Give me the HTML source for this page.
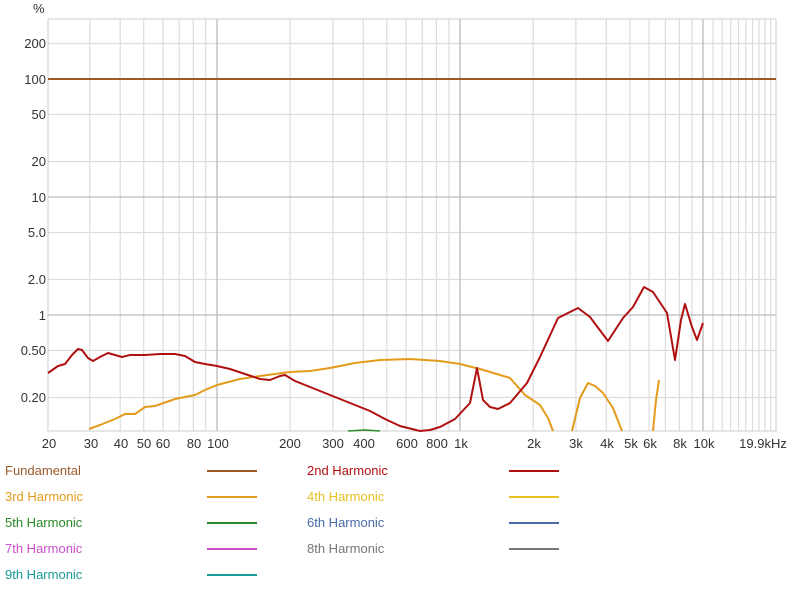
<!DOCTYPE html>
<html><head><style>
body{margin:0;background:#fff;}
svg text{font-family:"Liberation Sans",sans-serif;font-size:13px;fill:#333;}
</style></head><body>
<svg width="800" height="593" xmlns="http://www.w3.org/2000/svg">
<g stroke="#ddd" stroke-width="1.2">
<line x1="89.8" y1="19" x2="89.8" y2="431"/><line x1="120.2" y1="19" x2="120.2" y2="431"/><line x1="143.7" y1="19" x2="143.7" y2="431"/><line x1="163" y1="19" x2="163" y2="431"/><line x1="179.2" y1="19" x2="179.2" y2="431"/><line x1="193.3" y1="19" x2="193.3" y2="431"/><line x1="205.7" y1="19" x2="205.7" y2="431"/>
<line x1="290.1" y1="19" x2="290.1" y2="431"/><line x1="332.9" y1="19" x2="332.9" y2="431"/><line x1="363.3" y1="19" x2="363.3" y2="431"/><line x1="386.8" y1="19" x2="386.8" y2="431"/><line x1="406.1" y1="19" x2="406.1" y2="431"/><line x1="422.3" y1="19" x2="422.3" y2="431"/><line x1="436.4" y1="19" x2="436.4" y2="431"/><line x1="448.9" y1="19" x2="448.9" y2="431"/>
<line x1="533.2" y1="19" x2="533.2" y2="431"/><line x1="575.9" y1="19" x2="575.9" y2="431"/><line x1="606.3" y1="19" x2="606.3" y2="431"/><line x1="629.9" y1="19" x2="629.9" y2="431"/><line x1="649.1" y1="19" x2="649.1" y2="431"/><line x1="665.4" y1="19" x2="665.4" y2="431"/><line x1="679.4" y1="19" x2="679.4" y2="431"/><line x1="691.9" y1="19" x2="691.9" y2="431"/>
<line x1="713.1" y1="19" x2="713.1" y2="431"/><line x1="722.2" y1="19" x2="722.2" y2="431"/><line x1="730.7" y1="19" x2="730.7" y2="431"/><line x1="738.5" y1="19" x2="738.5" y2="431"/><line x1="745.8" y1="19" x2="745.8" y2="431"/><line x1="752.6" y1="19" x2="752.6" y2="431"/><line x1="759" y1="19" x2="759" y2="431"/><line x1="765" y1="19" x2="765" y2="431"/><line x1="770.7" y1="19" x2="770.7" y2="431"/>
<line x1="48" y1="43.5" x2="776" y2="43.5"/><line x1="48" y1="114.5" x2="776" y2="114.5"/><line x1="48" y1="161.5" x2="776" y2="161.5"/><line x1="48" y1="232.5" x2="776" y2="232.5"/><line x1="48" y1="279.5" x2="776" y2="279.5"/><line x1="48" y1="350.5" x2="776" y2="350.5"/><line x1="48" y1="397.5" x2="776" y2="397.5"/>
</g>
<g stroke="#bbb" stroke-width="1.3">
<line x1="217" y1="19" x2="217" y2="431"/><line x1="460" y1="19" x2="460" y2="431"/><line x1="703" y1="19" x2="703" y2="431"/>
<line x1="48" y1="197" x2="776" y2="197"/><line x1="48" y1="315" x2="776" y2="315"/>
</g>
<rect x="48" y="19" width="728" height="412" fill="none" stroke="#ccc" stroke-width="1"/>
<g text-anchor="end">
<text x="46" y="48">200</text><text x="46" y="84">100</text><text x="46" y="119">50</text><text x="46" y="166">20</text><text x="46" y="202">10</text><text x="46" y="237">5.0</text><text x="46" y="284">2.0</text><text x="46" y="320">1</text><text x="46" y="355">0.50</text><text x="46" y="402">0.20</text>
</g>
<text x="33" y="13">%</text>
<g text-anchor="middle">
<text x="49" y="448">20</text><text x="91" y="448">30</text><text x="121" y="448">40</text><text x="144" y="448">50</text><text x="163" y="448">60</text><text x="194" y="448">80</text><text x="218" y="448">100</text>
<text x="290" y="448">200</text><text x="333" y="448">300</text><text x="364" y="448">400</text><text x="407" y="448">600</text><text x="437" y="448">800</text><text x="461" y="448">1k</text>
<text x="534" y="448">2k</text><text x="576" y="448">3k</text><text x="607" y="448">4k</text><text x="631" y="448">5k</text><text x="650" y="448">6k</text><text x="680" y="448">8k</text><text x="704" y="448">10k</text><text x="763" y="448">19.9kHz</text>
</g>
<line x1="48" y1="79" x2="776" y2="79" stroke="#9c5a2a" stroke-width="2"/>
<path d="M348,431 L365,430 L380,431" fill="none" stroke="#2a8a2a" stroke-width="1.5"/>
<path d="M89,429 L100,425 L115,419 L125,414 L135,414 L145,407 L155,406 L175,399 L195,395 L205,390 L217,385 L240,379 L260,376 L290,372 L310,371 L330,368 L355,363 L380,360 L410,359 L440,361 L460,364 L480,369 L510,378 L518,387 L525,395 L540,405 L548,418 L553,431" fill="none" stroke="#e39b1c" stroke-width="2" stroke-linejoin="round"/>
<path d="M572,431 L580,398 L588,383 L595,386 L603,393 L613,408 L622,431" fill="none" stroke="#e39b1c" stroke-width="2" stroke-linejoin="round"/>
<path d="M653,431 L656,400 L659,380" fill="none" stroke="#e39b1c" stroke-width="2"/>
<path d="M48,373 L58,366 L65,364 L72,355 L78,349 L82,350 L88,358 L93,361 L100,357 L108,353 L115,355 L122,357 L130,355 L145,355 L160,354 L175,354 L185,356 L195,362 L205,364 L217,366 L230,369 L245,374 L260,379 L270,380 L280,376 L285,375 L295,381 L310,387 L330,395 L350,403 L370,411 L385,419 L400,426 L420,431 L430,430 L440,427 L455,419 L470,403 L477,368 L483,400 L490,407 L498,409 L510,403 L527,383 L540,357 L558,318 L568,313 L578,308 L590,317 L608,341 L623,318 L633,307 L644,287 L653,292 L667,313 L675,360 L681,320 L685,304 L692,327 L697,340 L703,323" fill="none" stroke="#b01010" stroke-width="2" stroke-linejoin="round"/>
<g font-size="13">
<text x="5" y="475" style="fill:#9c5a2a">Fundamental</text>
<text x="5" y="501" style="fill:#e39b1c">3rd Harmonic</text>
<text x="5" y="527" style="fill:#2a8a2a">5th Harmonic</text>
<text x="5" y="553" style="fill:#c84fc8">7th Harmonic</text>
<text x="5" y="579" style="fill:#1a9a9a">9th Harmonic</text>
<text x="307" y="475" style="fill:#b01010">2nd Harmonic</text>
<text x="307" y="501" style="fill:#e8c020">4th Harmonic</text>
<text x="307" y="527" style="fill:#4a6aa8">6th Harmonic</text>
<text x="307" y="553" style="fill:#777">8th Harmonic</text>
</g>
<g stroke-width="2">
<line x1="207" y1="471" x2="257" y2="471" stroke="#9c5a2a"/>
<line x1="207" y1="497" x2="257" y2="497" stroke="#e39b1c"/>
<line x1="207" y1="523" x2="257" y2="523" stroke="#2a8a2a"/>
<line x1="207" y1="549" x2="257" y2="549" stroke="#c84fc8"/>
<line x1="207" y1="575" x2="257" y2="575" stroke="#1a9a9a"/>
<line x1="509" y1="471" x2="559" y2="471" stroke="#b01010"/>
<line x1="509" y1="497" x2="559" y2="497" stroke="#e8c020"/>
<line x1="509" y1="523" x2="559" y2="523" stroke="#4a6aa8"/>
<line x1="509" y1="549" x2="559" y2="549" stroke="#777"/>
</g>
</svg>
</body></html>
